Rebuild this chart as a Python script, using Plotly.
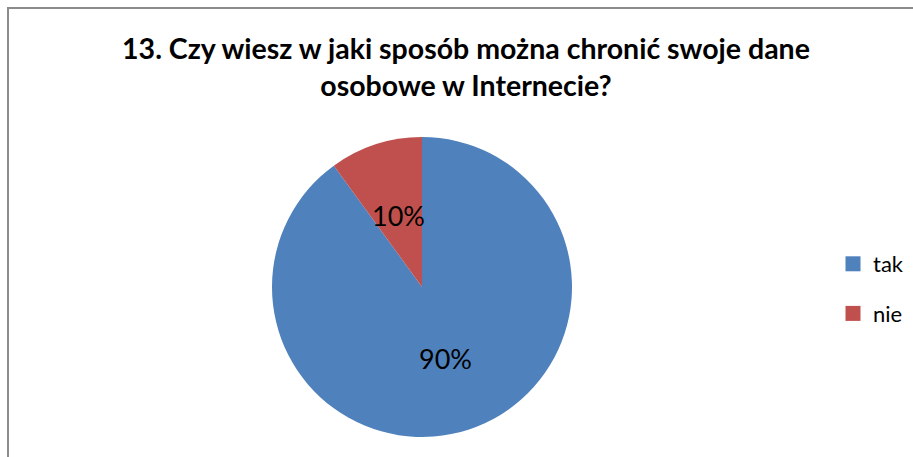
import math
import plotly.graph_objects as go

labels = ["tak", "nie"]
values = [90, 10]
colors = ["#4F81BD", "#C0504D"]
title_text = "13. Czy wiesz w jaki sposób można chronić swoje dane<br>osobowe w Internecie?"

W, H = 913, 457
FONT = "Lato"
CX, CY, R = 422, 287, 150  # pie centre and radius in pixels

fig = go.Figure()
fig.add_trace(go.Pie(
    labels=labels, values=values, sort=False, direction="clockwise", rotation=0,
    marker=dict(colors=colors, line=dict(width=0)),
    textinfo="none", hole=0, showlegend=False,
    domain=dict(x=[(CX - R) / W, (CX + R) / W], y=[(H - CY - R) / H, (H - CY + R) / H]),
))
for lab, col in zip(labels, colors):
    fig.add_trace(go.Scatter(
        x=[None], y=[None], mode="markers", name=lab, legendgroup=lab,
        marker=dict(symbol="square", size=15, color=col),
    ))

# percentage labels at half radius along each slice's mid-angle
total = sum(values)
annotations = []
cum = 0
for v in values:
    theta = math.radians(360 * (cum + v / 2) / total)
    cum += v
    annotations.append(dict(
        text=f"{v / total:.0%}", showarrow=False, xref="paper", yref="paper",
        x=(CX + 0.5 * R * math.sin(theta)) / W, y=(H - CY + 0.5 * R * math.cos(theta)) / H,
        xanchor="center", yanchor="middle",
        font=dict(family=FONT, size=27, color="black"),
    ))

fig.update_layout(
    width=W, height=H,
    margin=dict(l=0, r=0, t=0, b=0, autoexpand=False),
    paper_bgcolor="white", plot_bgcolor="white",
    xaxis=dict(visible=False), yaxis=dict(visible=False),
    title=dict(text=title_text, x=466 / W, xanchor="center", y=1 - 59 / H, yanchor="top",
               font=dict(family=FONT, size=28.5, color="black", weight="bold")),
    legend=dict(x=833 / W, y=1 - 243 / H, xanchor="left", yanchor="top",
                font=dict(family=FONT, size=22, color="black"),
                tracegroupgap=18, bgcolor="rgba(0,0,0,0)", itemsizing="trace"),
    annotations=annotations,
    shapes=[dict(type="rect", xref="paper", yref="paper", x0=8 / W, x1=1.05, y0=-0.05, y1=1 - 8 / H,
                 line=dict(color="#8C8C8C", width=2), fillcolor="rgba(0,0,0,0)", layer="below")],
)
fig.write_html("out.html", config={"displayModeBar": False},
               post_script="document.body.style.margin='0';")
